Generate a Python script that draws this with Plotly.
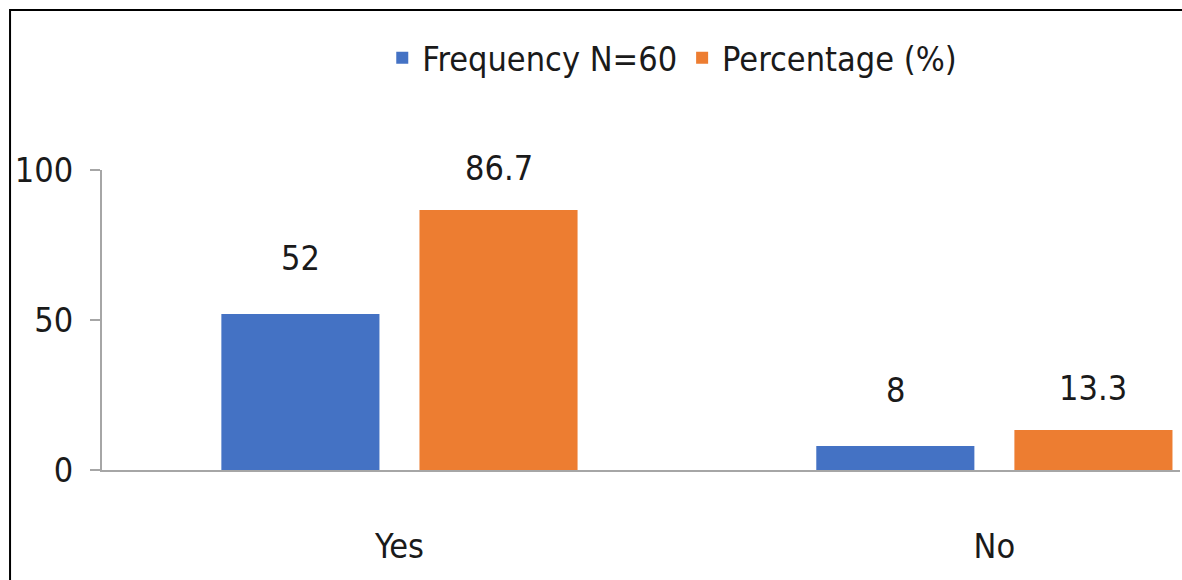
import plotly.graph_objects as go

# Survey responses
categories = ["Yes", "No"]
frequency = [52, 8]
percentage = [86.7, 13.3]
y_ticks = [0, 50, 100]

FONT = "DejaVu Sans Condensed, Liberation Sans Narrow, Arial Narrow, sans-serif"
TEXT_COLOR = "#1a1a1a"
AXIS_COLOR = "#a6a6a6"
SIZE = 34

fig = go.Figure()
series = [
    ("Frequency N=60", frequency, "#4472C4", 56),
    ("Percentage (%)", percentage, "#ED7D31", 42),
]
for i, (name, values, color, lift) in enumerate(series):
    fig.add_trace(go.Bar(
        name=name, x=categories, y=values,
        marker=dict(color=color, line=dict(width=0)),
        offsetgroup=str(i),
    ))

# Value labels above each bar, placed over the bar's own slot in the group
slot = 0.333  # half the group width in category units
for i, (name, values, color, lift) in enumerate(series):
    dx = -slot / 2 if i == 0 else slot / 2
    for j, v in enumerate(values):
        fig.add_annotation(
            x=j + dx, y=v, text=f"{v:g}", showarrow=False,
            yshift=lift, xref="x", yref="y",
            font=dict(family=FONT, size=SIZE, color=TEXT_COLOR),
        )

# Frame drawn along the top and left edges of the page
fig.add_shape(type="path", xref="paper", yref="paper",
              path="M -0.0853,-0.4 L -0.0853,1.5333 L 1.02,1.5333",
              line=dict(color="black", width=2))

fig.update_layout(
    width=1182, height=580,
    margin=dict(l=102, r=2, t=170, b=110),
    paper_bgcolor="white", plot_bgcolor="white",
    barmode="group", bargap=0.334, bargroupgap=0.202,
    font=dict(family=FONT, size=SIZE, color=TEXT_COLOR),
    showlegend=True,
    legend=dict(orientation="h", x=0.529, y=1.373, xanchor="center", yanchor="middle",
                font=dict(family=FONT, size=SIZE, color=TEXT_COLOR),
                itemsizing="constant", bgcolor="rgba(0,0,0,0)"),
    xaxis=dict(type="category", range=[-0.5, 1.312], showline=True, linecolor=AXIS_COLOR,
               linewidth=2, ticks="", showgrid=False, zeroline=False, ticklabelstandoff=45,
               tickfont=dict(family=FONT, size=SIZE, color=TEXT_COLOR)),
    yaxis=dict(range=[0, 100], tickvals=y_ticks, showline=True, linecolor=AXIS_COLOR,
               linewidth=2, ticks="outside", ticklen=10, tickcolor=AXIS_COLOR, tickwidth=2,
               showgrid=False, zeroline=False, ticklabelstandoff=10,
               tickfont=dict(family=FONT, size=SIZE, color=TEXT_COLOR)),
)

fig.write_html("out.html")
